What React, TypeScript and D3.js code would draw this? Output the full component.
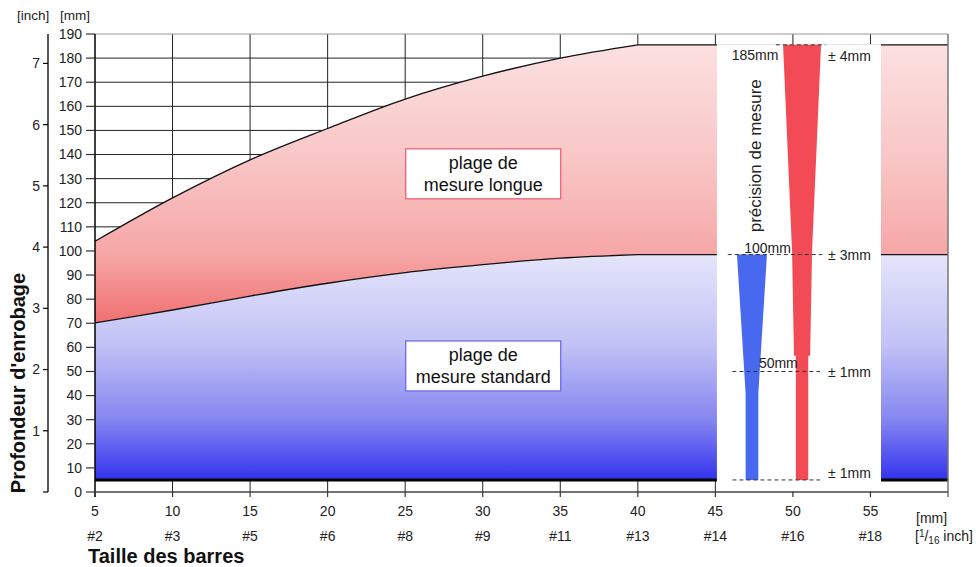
import * as d3 from "d3";
import React, { useEffect, useRef } from "react";

// bar size [mm] and bar number
const sizeTicks = [5, 10, 15, 20, 25, 30, 35, 40, 45, 50, 55];
const barNumbers = ["#2", "#3", "#5", "#6", "#8", "#9", "#11", "#13", "#14", "#16", "#18"];
const depthTicks = d3.range(0, 200, 10);
const inchTicks = [1, 2, 3, 4, 5, 6, 7];

// measuring ranges (cover depth in mm) per bar size; flat from 40 to 60
const curveSizes = [5, 10, 15, 20, 25, 30, 35, 40];
const longRange = [104, 122, 137.8, 150.8, 163, 172.5, 180, 185.5];
const standardRange = [70.2, 75.5, 81.3, 86.6, 91, 94.3, 97, 98.5];
const lastSize = 60;
const minDepth = 5;

// precision bars: [depth, half width in bar-size mm]
const redBarCenter = 50.59;
const redBar: [number, number][] = [[185.5, 1.225], [100, 0.645], [56.5, 0.52], [56.5, 0.4], [5, 0.4]];
const blueBarCenter = 47.36;
const blueBar: [number, number][] = [[98.5, 0.967], [41, 0.41], [5, 0.41]];

// precision marks: depth, dashed from / to (bar size), label
const precisionMarks = [
  { depth: 185.5, x0: 48.9, x1: 52.1, label: "± 4mm" },
  { depth: 98.5, x0: 45.8, x1: 51.9, label: "± 3mm" },
  { depth: 50, x0: 46.1, x1: 51.75, label: "± 1mm" },
  { depth: 5, x0: 46.1, x1: 51.75, label: "± 1mm" },
];

export default function App() {
  const ref = useRef<SVGSVGElement | null>(null);
  const width = 976;
  const height = 567;

  useEffect(() => {
    document.body.style.margin = "0";
    if (!ref.current) return;
    const svg = d3.select(ref.current);
    svg.selectAll("*").remove();

    const font = "Liberation Sans, Arial, sans-serif";
    const ink = "#222";

    const x = d3.scaleLinear().domain([5, 60]).range([95, 948]);
    const y = d3.scaleLinear().domain([0, 190]).range([492, 34]);
    const yIn = d3.scaleLinear().domain([0, 190 / 25.4]).range([492, 34]);

    const defs = svg.append("defs");
    const redGrad = defs.append("linearGradient")
      .attr("id", "redGrad").attr("gradientUnits", "userSpaceOnUse")
      .attr("x1", 0).attr("x2", 0).attr("y1", y(185.5)).attr("y2", y(70));
    [[0, "#fce0e0"], [0.4, "#f9c7c7"], [0.75, "#f6a7a7"], [1, "#f07070"]].forEach(([o, c]) =>
      redGrad.append("stop").attr("offset", o as number).attr("stop-color", c as string));
    const blueGrad = defs.append("linearGradient")
      .attr("id", "blueGrad").attr("gradientUnits", "userSpaceOnUse")
      .attr("x1", 0).attr("x2", 0).attr("y1", y(98.5)).attr("y2", y(5));
    [[0, "#e5e5fb"], [0.4, "#c2c2f6"], [0.73, "#8686f1"], [1, "#3333ee"]].forEach(([o, c]) =>
      blueGrad.append("stop").attr("offset", o as number).attr("stop-color", c as string));

    svg.append("rect").attr("width", width).attr("height", height).attr("fill", "#fff");

    // grid
    svg.append("g").selectAll("line").data(depthTicks.filter(d => d > 0 && d < 190)).join("line")
      .attr("x1", x(5)).attr("x2", x(60)).attr("y1", d => y(d)).attr("y2", d => y(d))
      .attr("stroke", ink).attr("stroke-width", 1);
    svg.append("g").selectAll("line").data(sizeTicks.filter(d => d > 5)).join("line")
      .attr("x1", d => x(d)).attr("x2", d => x(d)).attr("y1", y(190)).attr("y2", y(0))
      .attr("stroke", ink).attr("stroke-width", 1);

    const curve = d3.line<[number, number]>()
      .x(d => x(d[0])).y(d => y(d[1])).curve(d3.curveCatmullRom.alpha(0.5));
    const hiPts = curveSizes.map((s, i) => [s, longRange[i]] as [number, number]);
    const loPts = curveSizes.map((s, i) => [s, standardRange[i]] as [number, number]);
    const last = curveSizes.length - 1;

    const hiPath = curve(hiPts)! + `L${x(lastSize)},${y(longRange[last])}`;
    const loPath = curve(loPts)! + `L${x(lastSize)},${y(standardRange[last])}`;
    const loBack = `L${x(lastSize)},${y(standardRange[last])}` + curve(loPts.slice().reverse())!.replace(/^M/, "L");

    svg.append("path").attr("d", hiPath + loBack + "Z").attr("fill", "url(#redGrad)");
    svg.append("path")
      .attr("d", loPath + `L${x(lastSize)},${y(minDepth)}L${x(5)},${y(minDepth)}Z`)
      .attr("fill", "url(#blueGrad)");
    svg.append("path").attr("d", hiPath).attr("fill", "none").attr("stroke", "#111").attr("stroke-width", 1.3);
    svg.append("path").attr("d", loPath).attr("fill", "none").attr("stroke", "#111").attr("stroke-width", 1.3);

    svg.append("line").attr("x1", x(5)).attr("x2", x(60)).attr("y1", y(minDepth)).attr("y2", y(minDepth))
      .attr("stroke", "#000").attr("stroke-width", 3);

    // white precision band
    svg.append("rect").attr("x", x(45.1)).attr("width", x(55.68) - x(45.1))
      .attr("y", y(185.5) - 0.7).attr("height", y(0) - y(185.5)).attr("fill", "#fff");

    const barPath = (center: number, rows: [number, number][]) => {
      const left = rows.map(([d, h]) => [x(center - h), y(d)] as [number, number]);
      const right = rows.map(([d, h]) => [x(center + h), y(d)] as [number, number]).reverse();
      return d3.line()([...left, ...right]) + "Z";
    };
    svg.append("path").attr("d", barPath(redBarCenter, redBar)).attr("fill", "#f34b56");
    svg.append("path").attr("d", barPath(blueBarCenter, blueBar)).attr("fill", "#4768ef");

    const marks = svg.append("g");
    marks.selectAll("line").data(precisionMarks).join("line")
      .attr("x1", d => x(d.x0)).attr("x2", d => x(d.x1))
      .attr("y1", d => y(d.depth)).attr("y2", d => y(d.depth))
      .attr("stroke", "#333").attr("stroke-width", 1).attr("stroke-dasharray", "4,3");
    marks.selectAll("text").data(precisionMarks).join("text")
      .attr("x", x(52.27)).attr("y", d => y(d.depth) + (d.depth > 180 ? 11 : d.depth < 10 ? -7 : 1))
      .attr("dy", "0.35em").attr("font-family", font).attr("font-size", 14).attr("fill", ink)
      .text(d => d.label);

    const depthLabels = [
      { x: blueBarCenter + 0.2, depth: 185.5, dy: 10, text: "185mm" },
      { x: blueBarCenter + 1.0, depth: 98.5, dy: -6, text: "100mm" },
      { x: blueBarCenter + 1.7, depth: 50, dy: -8, text: "50mm" },
    ];
    svg.append("g").selectAll("text").data(depthLabels).join("text")
      .attr("x", d => x(d.x)).attr("y", d => y(d.depth) + d.dy).attr("dy", "0.35em")
      .attr("text-anchor", "middle").attr("font-family", font).attr("font-size", 14).attr("fill", ink)
      .text(d => d.text);

    svg.append("text")
      .attr("transform", `translate(${x(blueBarCenter) + 9},${y(139.5)}) rotate(-90)`)
      .attr("text-anchor", "middle").attr("font-family", font).attr("font-size", 17).attr("fill", ink)
      .text("précision de mesure");

    // frame and axes
    svg.append("line").attr("x1", x(5)).attr("x2", x(60)).attr("y1", y(190)).attr("y2", y(190))
      .attr("stroke", "#999").attr("stroke-width", 1.2);
    svg.append("line").attr("x1", x(60)).attr("x2", x(60)).attr("y1", y(190)).attr("y2", y(0) + 5)
      .attr("stroke", "#777").attr("stroke-width", 1.5);
    svg.append("line").attr("x1", x(5)).attr("x2", x(5)).attr("y1", y(190)).attr("y2", y(0) + 5)
      .attr("stroke", "#000").attr("stroke-width", 1.5);
    svg.append("line").attr("x1", x(5)).attr("x2", x(60)).attr("y1", y(0)).attr("y2", y(0))
      .attr("stroke", "#444").attr("stroke-width", 1.5);

    const xAxis = svg.append("g");
    xAxis.selectAll("line").data(sizeTicks).join("line")
      .attr("x1", d => x(d)).attr("x2", d => x(d)).attr("y1", y(0)).attr("y2", y(0) + 5)
      .attr("stroke", "#333").attr("stroke-width", 1.2);
    xAxis.selectAll("text.mm").data(sizeTicks).join("text").attr("class", "mm")
      .attr("x", d => x(d)).attr("y", 511).attr("dy", "0.35em").attr("text-anchor", "middle")
      .attr("font-family", font).attr("font-size", 14).attr("fill", ink).text(d => d);
    xAxis.selectAll("text.bar").data(sizeTicks).join("text").attr("class", "bar")
      .attr("x", d => x(d)).attr("y", 536).attr("dy", "0.35em").attr("text-anchor", "middle")
      .attr("font-family", font).attr("font-size", 14).attr("fill", ink).text((_, i) => barNumbers[i]);

    const yAxis = svg.append("g");
    yAxis.selectAll("line").data(depthTicks).join("line")
      .attr("x1", x(5) - 9).attr("x2", x(5)).attr("y1", d => y(d)).attr("y2", d => y(d))
      .attr("stroke", "#333").attr("stroke-width", 1.2);
    yAxis.selectAll("text").data(depthTicks).join("text")
      .attr("x", 82).attr("y", d => y(d)).attr("dy", "0.35em").attr("text-anchor", "end")
      .attr("font-family", font).attr("font-size", 14).attr("fill", ink).text(d => d);

    const inchAxis = svg.append("g");
    inchAxis.append("line").attr("x1", 48).attr("x2", 48).attr("y1", y(190)).attr("y2", y(0))
      .attr("stroke", "#000").attr("stroke-width", 1.3);
    inchAxis.selectAll("line.t").data([0, ...inchTicks]).join("line").attr("class", "t")
      .attr("x1", 43).attr("x2", 48).attr("y1", d => yIn(d)).attr("y2", d => yIn(d))
      .attr("stroke", "#000").attr("stroke-width", 1.2);
    inchAxis.selectAll("text").data(inchTicks).join("text")
      .attr("x", 40).attr("y", d => yIn(d)).attr("dy", "0.35em").attr("text-anchor", "end")
      .attr("font-family", font).attr("font-size", 14).attr("fill", ink).text(d => d);

    svg.append("text").attr("x", 17).attr("y", 20).attr("font-family", font).attr("font-size", 13.5)
      .attr("fill", ink).text("[inch]");
    svg.append("text").attr("x", 60).attr("y", 20).attr("font-family", font).attr("font-size", 13.5)
      .attr("fill", ink).text("[mm]");

    svg.append("text").attr("x", 916).attr("y", 518).attr("dy", "0.35em").attr("font-family", font)
      .attr("font-size", 14).attr("fill", ink).text("[mm]");
    const unit = svg.append("text").attr("x", 915).attr("y", 536).attr("dy", "0.35em")
      .attr("font-family", font).attr("font-size", 14).attr("fill", ink);
    unit.append("tspan").text("[");
    unit.append("tspan").attr("font-size", 10).attr("dy", -4).text("1");
    unit.append("tspan").attr("dy", 4).text("/");
    unit.append("tspan").attr("font-size", 10).attr("dy", 3).text("16");
    unit.append("tspan").attr("dy", -3).text(" inch]");

    svg.append("text").attr("x", 88).attr("y", 563).attr("font-family", font).attr("font-size", 20)
      .attr("font-weight", "bold").attr("fill", "#111").text("Taille des barres");
    svg.append("text").attr("transform", `translate(25,383) rotate(-90)`).attr("text-anchor", "middle")
      .attr("font-family", font).attr("font-size", 20).attr("font-weight", "bold").attr("fill", "#111")
      .text("Profondeur d'enrobage");

    // range labels
    const boxes = [
      { depth: 132, lines: ["plage de", "mesure longue"], stroke: "#f06078" },
      { depth: 52.3, lines: ["plage de", "mesure standard"], stroke: "#6b6bf0" },
    ];
    boxes.forEach(b => {
      const cx = x(30);
      const cy = y(b.depth);
      svg.append("rect").attr("x", cx - 77).attr("y", cy - 25).attr("width", 155).attr("height", 50)
        .attr("fill", "#fff").attr("stroke", b.stroke).attr("stroke-width", 1.3);
      b.lines.forEach((t, i) => {
        svg.append("text").attr("x", cx + 0.5).attr("y", cy - 11 + i * 22).attr("dy", "0.35em")
          .attr("text-anchor", "middle").attr("font-family", font).attr("font-size", 18)
          .attr("fill", "#111").text(t);
      });
    });
  }, []);

  return <svg ref={ref} width={width} height={height} style={{ display: "block" }}></svg>;
}
